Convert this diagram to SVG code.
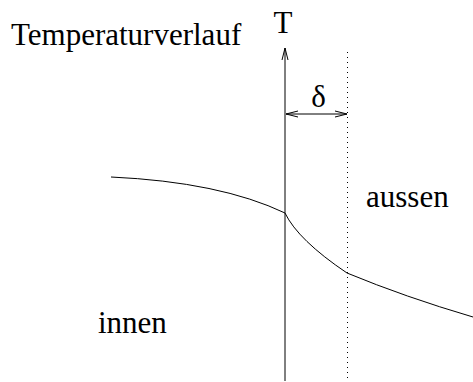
<svg xmlns="http://www.w3.org/2000/svg" width="473" height="382" viewBox="0 0 473 382">
<defs>
<style>
.t{font-family:'Liberation Serif','Times New Roman',Times,serif;font-size:31px;fill:#000}
.ln{fill:none;stroke:#000;stroke-width:1}
</style>
<marker id="ah" markerWidth="14" markerHeight="8" refX="12" refY="4" orient="auto-start-reverse" markerUnits="userSpaceOnUse">
<path d="M0,1 L12,4 L0,7" fill="none" stroke="#000" stroke-width="1"/>
</marker>
</defs>
<rect width="473" height="382" fill="#fff"/>
<g id="title"><text class="t" x="11" y="45">Temperaturverlauf</text></g>
<g id="T-label"><text class="t" x="283" y="33" text-anchor="middle">T</text></g>
<g id="delta-label"><text class="t" x="318.5" y="107" text-anchor="middle">δ</text></g>
<g id="aussen"><text class="t" x="366" y="207">aussen</text></g>
<g id="innen"><text class="t" x="98" y="333">innen</text></g>
<g id="connectors">
<line id="axis" class="ln" x1="285" y1="381" x2="285" y2="48" marker-end="url(#ah)"/>
<line id="boundary" class="ln" x1="347.5" y1="52" x2="347.5" y2="381" stroke-dasharray="1 4"/>
<line id="delta" class="ln" x1="286" y1="114" x2="347" y2="114" marker-start="url(#ah)" marker-end="url(#ah)"/>
<path id="curve" class="ln" d="M111,177 Q220,182 285,213 Q298,240 347,273 Q405,297 473,317"/>
</g>
</svg>
